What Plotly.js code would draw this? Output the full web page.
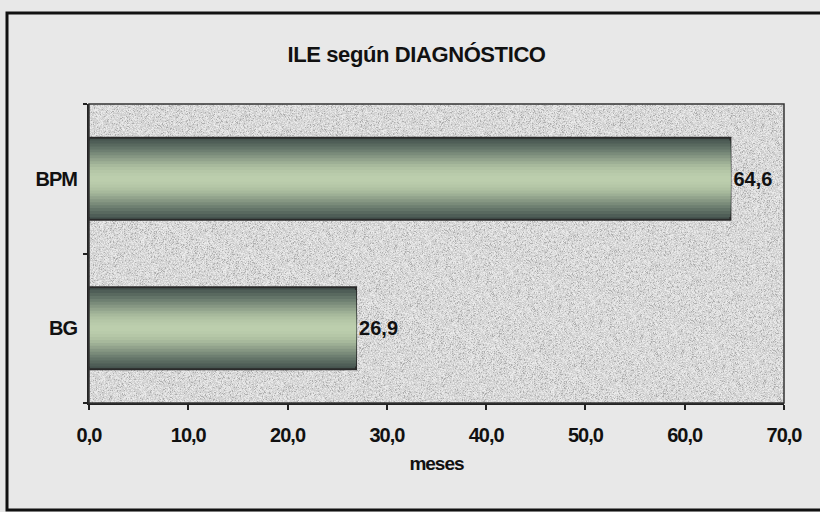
<!DOCTYPE html>
<html>
<head>
<meta charset="utf-8">
<script src="https://cdn.plot.ly/plotly-3.0.1.min.js"></script>
<style>
  html, body { margin: 0; padding: 0; background: #e8e8e8; }
  #chart { width: 820px; height: 512px; }
  /* tight lettering of the chart texts */
  .gtitle { letter-spacing: -0.4px; }
  .xtick text, .ytick text, .textpoint text { letter-spacing: -1px; }
  .xtitle { letter-spacing: -1px; }
</style>
</head>
<body>
<div id="chart"></div>
<script>
// ILE (meses) por diagnóstico
const categories = ['BG', 'BPM'];
const valores = [26.9, 64.6];
const etiquetas = ['26,9', '64,6'];
const xTicks = [0, 10, 20, 30, 40, 50, 60, 70];

const FONT = 'Liberation Sans, Arial, sans-serif';

// Stippled fill for the plot area, drawn once on a canvas
function stipple(w, h) {
  const c = document.createElement('canvas');
  c.width = w; c.height = h;
  const ctx = c.getContext('2d');
  const img = ctx.createImageData(w, h);
  let s = 12345;
  const next = () => { s = (s * 1103515245 + 12345) & 0x7fffffff; return s / 0x7fffffff; };
  for (let i = 0; i < w * h; i++) {
    const r = next();
    let v = 216 + Math.round((r - 0.5) * 40);
    if (r > 0.94) v = 236;
    if (r < 0.07) v = 175;
    img.data[i * 4] = v; img.data[i * 4 + 1] = v; img.data[i * 4 + 2] = v; img.data[i * 4 + 3] = 255;
  }
  ctx.putImageData(img, 0, 0);
  return c.toDataURL();
}

// Cylinder-like shading built from stacked bars of shrinking thickness
const shades = ['#46544f', '#4f5e57', '#59695f', '#637468', '#6e7f71', '#7a8b7a', '#869783',
                '#92a38c', '#9daf95', '#a7b99c', '#afc1a2', '#b5c7a7', '#b9cbab', '#bccead'];
const fullWidth = 0.55;
const traces = shades.map((col, i) => {
  const w = fullWidth * (1 - i / shades.length);
  const t = {
    type: 'bar',
    orientation: 'h',
    y: categories,
    x: valores,
    width: w,
    marker: { color: col, line: { width: 0 } },
    hoverinfo: 'skip',
    showlegend: false
  };
  if (i === 0) {
    t.marker.line = { color: '#2a2a2a', width: 2 };
    t.text = etiquetas;
    t.textposition = 'outside';
    t.cliponaxis = false;
    t.textfont = { family: FONT, size: 20, color: '#111', weight: 'bold' };
  }
  return t;
});

const layout = {
  width: 820,
  height: 512,
  margin: { l: 89, r: 36, t: 104, b: 109 },
  paper_bgcolor: '#e8e8e8',
  plot_bgcolor: '#d6d6d6',
  barmode: 'overlay',
  separators: ',.',
  font: { family: FONT, color: '#111' },
  title: {
    text: '<b>ILE según DIAGNÓSTICO</b>',
    font: { size: 22, color: '#111' },
    x: 0.508, xanchor: 'center',
    y: 0.893, yanchor: 'middle'
  },
  xaxis: {
    range: [0, 70],
    tickvals: xTicks,
    tickformat: '.1f',
    ticks: 'outside',
    ticklen: 5,
    tickwidth: 2,
    tickcolor: '#222',
    showline: true,
    linecolor: '#222',
    linewidth: 2,
    mirror: false,
    showgrid: false,
    zeroline: false,
    tickfont: { size: 20, weight: 'bold', color: '#111' },
    ticklabelstandoff: 8,
    title: { text: '<b>meses</b>', font: { size: 19, color: '#111' }, standoff: 12 }
  },
  yaxis: {
    type: 'category',
    categoryorder: 'array',
    categoryarray: categories,
    range: [-0.5, 1.5],
    ticks: 'outside',
    ticklen: 4,
    tickwidth: 2,
    tickcolor: '#222',
    tickson: 'boundaries',
    showline: true,
    linecolor: '#222',
    linewidth: 2,
    showgrid: false,
    zeroline: false,
    tickfont: { size: 20, weight: 'bold', color: '#111' },
    ticklabelstandoff: 6
  },
  images: [{
    source: stipple(695, 299),
    xref: 'paper', yref: 'paper',
    x: 0, y: 1, sizex: 1, sizey: 1,
    xanchor: 'left', yanchor: 'top',
    sizing: 'stretch', layer: 'below'
  }],
  shapes: [
    // plot area outline
    { type: 'rect', xref: 'paper', yref: 'paper', x0: 0, x1: 1, y0: 0, y1: 1,
      line: { color: '#333', width: 1.5 }, layer: 'above' },
    // outer frame of the chart
    { type: 'rect', xref: 'paper', yref: 'paper',
      x0: -82 / 695, x1: 745 / 695, y0: -107 / 299, y1: 1 + 91 / 299,
      line: { color: '#111', width: 3 }, layer: 'above' }
  ]
};

Plotly.newPlot('chart', traces, layout, { displayModeBar: false, staticPlot: true });
</script>
</body>
</html>
